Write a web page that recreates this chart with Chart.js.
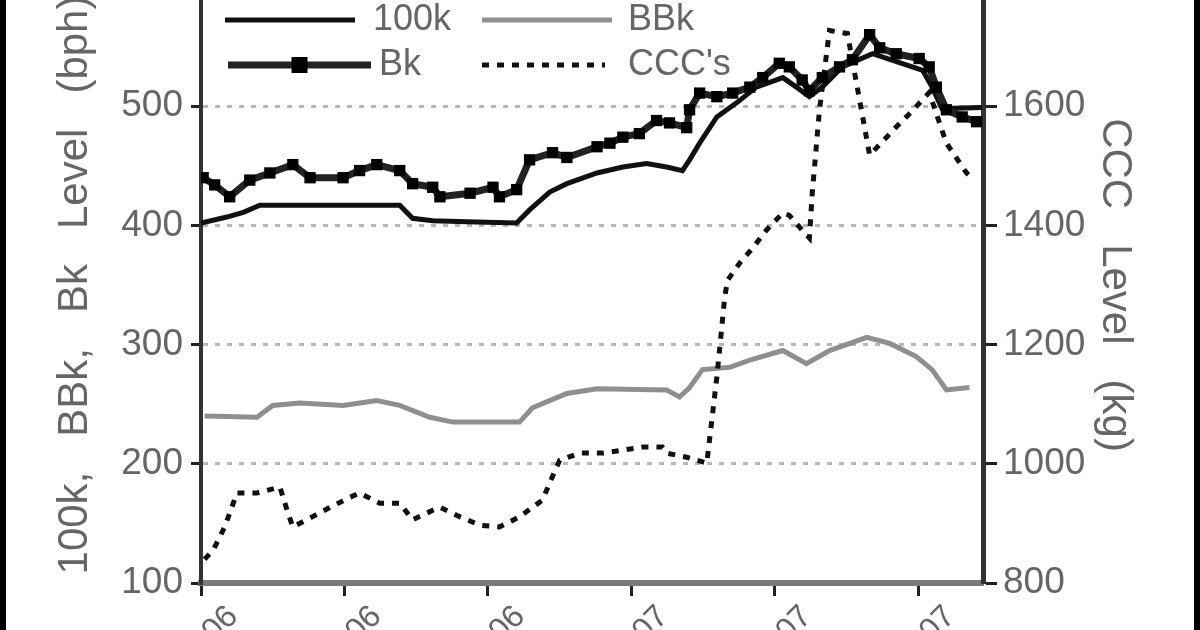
<!DOCTYPE html>
<html>
<head>
<meta charset="utf-8">
<script src="https://cdn.jsdelivr.net/npm/chart.js@4.4.1/dist/chart.umd.min.js"></script>
<style>
  html, body { margin: 0; padding: 0; background: #fff; overflow: hidden; }
  body { width: 1200px; height: 630px; position: relative; }
  #wrap { position: absolute; left: 0; top: -60px; width: 1200px; height: 700px; }
  .edge { position: absolute; top: 0; width: 6px; height: 630px; background: #000; }
</style>
</head>
<body>
<div id="wrap"><canvas id="chart" width="1200" height="700"></canvas></div>
<div class="edge" style="left:0"></div>
<div class="edge" style="right:0"></div>
<script>
// x positions are months from the first tick
var tickMonths = [0, 2, 4, 6, 8, 10];
var tickLabels = ['Jul-06', 'Sep-06', 'Nov-06', 'Jan-07', 'Mar-07', 'May-07'];

var months100k = [0.0, 0.36, 0.59, 0.82, 1.80, 2.77, 2.95, 3.23, 3.70, 4.40, 4.58, 4.86, 5.10, 5.52, 5.88, 6.21, 6.49, 6.71, 6.81, 6.95, 7.19, 7.47, 7.74, 8.11, 8.30, 8.48, 8.66, 8.94, 9.36, 10.06, 10.19, 10.33, 10.89];
var level100k = [402, 407, 411, 417, 417, 417, 406, 404, 403, 402, 413, 428, 435, 444, 449, 452, 449, 446, 455, 469, 491, 503, 516, 524, 516, 508, 516, 533, 544, 530, 516, 498, 499];

var monthsBBk = [0.05, 0.78, 1.00, 1.38, 1.98, 2.45, 2.77, 3.19, 3.51, 4.16, 4.44, 4.62, 4.86, 5.10, 5.52, 6.49, 6.67, 6.81, 6.99, 7.37, 7.65, 8.11, 8.44, 8.76, 9.28, 9.60, 9.97, 10.19, 10.39, 10.71];
var levelBBk = [240, 239, 249, 251, 249, 253, 249, 239, 235, 235, 235, 247, 253, 259, 263, 262, 256, 264, 279, 281, 287, 295, 284, 295, 306, 301, 290, 279, 262, 264];

var monthsBk = [0.03, 0.19, 0.40, 0.68, 0.96, 1.28, 1.52, 1.98, 2.21, 2.45, 2.77, 2.95, 3.23, 3.33, 3.75, 4.07, 4.16, 4.40, 4.58, 4.90, 5.10, 5.52, 5.70, 5.88, 6.11, 6.35, 6.53, 6.77, 6.81, 6.95, 7.19, 7.41, 7.65, 7.83, 8.06, 8.20, 8.38, 8.48, 8.66, 8.90, 9.08, 9.32, 9.46, 9.69, 10.01, 10.15, 10.25, 10.39, 10.61, 10.81];
var levelBk = [440, 434, 424, 438, 444, 451, 440, 440, 446, 451, 446, 435, 432, 424, 427, 432, 424, 430, 455, 461, 457, 466, 469, 474, 477, 488, 486, 482, 497, 511, 508, 511, 516, 524, 536, 533, 522, 513, 524, 533, 539, 560, 549, 544, 540, 533, 516, 497, 491, 487];

var monthsCCC = [0.05, 0.17, 0.33, 0.43, 0.50, 0.78, 1.10, 1.20, 1.28, 1.52, 1.80, 2.08, 2.21, 2.49, 2.77, 2.95, 3.23, 3.33, 3.61, 3.89, 4.16, 4.44, 4.62, 4.76, 4.86, 5.00, 5.28, 5.60, 6.16, 6.43, 6.49, 6.77, 7.05, 7.19, 7.30, 7.34, 7.51, 7.69, 7.88, 8.11, 8.20, 8.38, 8.48, 8.52, 8.62, 8.76, 9.01, 9.32, 9.69, 9.92, 10.15, 10.39, 10.67, 10.78];
var levelCCC = [840, 855, 894, 927, 951, 951, 961, 922, 894, 909, 927, 944, 951, 934, 934, 906, 922, 927, 911, 897, 894, 911, 927, 939, 968, 1006, 1018, 1018, 1028, 1028, 1018, 1011, 1001, 1145, 1280, 1308, 1337, 1362, 1392, 1421, 1417, 1392, 1379, 1454, 1593, 1727, 1722, 1518, 1565, 1593, 1623, 1538, 1488, 1476];

var sans = '"Liberation Sans", Arial, sans-serif';
var textGrey = '#666';

function points(xs, ys) {
    return xs.map((x, i) => ({ x: x, y: ys[i] }));
}

// legend drawn inside the plot, two rows of two entries
var insideLegend = {
    id: 'insideLegend',
    afterDatasetsDraw: function (chart) {
        var ctx = chart.ctx;
        var area = chart.chartArea;
        var rows = [area.top + 33, area.top + 78];
        // dataset index, line start, line end, text x, row
        var slots = [[1, 24, 154, 172, 0], [3, 281, 411, 427, 0], [0, 27, 170, 178, 1], [2, 281, 404, 427, 1]];
        ctx.save();
        slots.forEach(function (s) {
            var ds = chart.data.datasets[s[0]];
            var y = rows[s[4]];
            ctx.strokeStyle = ds.borderColor;
            ctx.lineWidth = ds.borderWidth;
            ctx.setLineDash(ds.borderDash || []);
            ctx.beginPath();
            ctx.moveTo(area.left + s[1], y);
            ctx.lineTo(area.left + s[2], y);
            ctx.stroke();
            ctx.setLineDash([]);
            if (ds.pointRadius) {
                var mid = area.left + (s[1] + s[2]) / 2;
                ctx.fillStyle = ds.pointBackgroundColor;
                ctx.fillRect(mid - 8, y - 8, 16, 16);
            }
            ctx.fillStyle = textGrey;
            ctx.font = '36px ' + sans;
            ctx.textBaseline = 'middle';
            ctx.textAlign = 'left';
            ctx.fillText(ds.label, area.left + s[3], y);
        });
        ctx.restore();
    }
};

new Chart(document.getElementById('chart').getContext('2d'), {
    type: 'line',
    data: {
        datasets: [{
            label: 'Bk',
            data: points(monthsBk, levelBk),
            yAxisID: 'y',
            borderColor: '#222',
            borderWidth: 7,
            pointStyle: 'rect',
            pointRadius: 8,
            pointBackgroundColor: '#000',
            pointBorderWidth: 0
        }, {
            label: '100k',
            data: points(months100k, level100k),
            yAxisID: 'y',
            borderColor: '#111',
            borderWidth: 5,
            pointRadius: 0
        }, {
            label: "CCC's",
            data: points(monthsCCC, levelCCC),
            yAxisID: 'y1',
            borderColor: '#111',
            borderWidth: 5,
            borderDash: [7, 8],
            pointRadius: 0
        }, {
            label: 'BBk',
            data: points(monthsBBk, levelBBk),
            yAxisID: 'y',
            borderColor: '#8f8f8f',
            borderWidth: 5,
            pointRadius: 0
        }]
    },
    options: {
        responsive: false,
        animation: false,
        devicePixelRatio: 1,
        layout: { padding: { top: 47, left: 0, right: 0, bottom: 0 } },
        elements: { line: { tension: 0 } },
        plugins: {
            legend: { display: false },
            tooltip: { enabled: false }
        },
        scales: {
            x: {
                type: 'linear',
                min: 0,
                max: 10.9,
                afterBuildTicks: (axis) => { axis.ticks = tickMonths.map(v => ({ value: v })); },
                afterFit: (axis) => { axis.height = 57; },
                grid: { drawOnChartArea: false, tickLength: 13, tickWidth: 3, tickColor: '#222' },
                border: { color: '#7a7a7a', width: 6 },
                ticks: {
                    minRotation: 45,
                    maxRotation: 45,
                    autoSkip: false,
                    labelOffset: 32,
                    padding: 2,
                    color: textGrey,
                    font: { family: sans, size: 32 },
                    callback: (value, index) => tickLabels[index]
                }
            },
            y: {
                position: 'left',
                min: 100,
                max: 600,
                afterFit: (axis) => { axis.width = 201; },
                ticks: { stepSize: 100, padding: 8, color: textGrey, font: { family: sans, size: 37 }, callback: (v) => String(v) },
                grid: {
                    color: (c) => (c.tick && c.tick.value > 100 && c.tick.value < 600) ? '#b8b8b8' : 'rgba(0,0,0,0)',
                    lineWidth: 3,
                    tickLength: 10,
                    tickWidth: 3,
                    tickColor: '#222'
                },
                border: { color: '#333', width: 4, dash: [5, 7] },
                title: {
                    display: true,
                    text: '100k,   BBk,   Bk   Level   (bph)',
                    color: textGrey,
                    font: { family: sans, size: 42 },
                    padding: { top: 50 }
                }
            },
            y1: {
                position: 'right',
                min: 800,
                max: 1800,
                afterFit: (axis) => { axis.width = 217; },
                ticks: { stepSize: 200, padding: 6, color: textGrey, font: { family: sans, size: 37 }, callback: (v) => String(v) },
                grid: { drawOnChartArea: false, tickLength: 14, tickWidth: 3, tickColor: '#222' },
                border: { color: '#333', width: 5 },
                title: {
                    display: true,
                    text: 'CCC   Level   (kg)',
                    color: textGrey,
                    font: { family: sans, size: 42 },
                    padding: { top: 60 }
                }
            }
        }
    },
    plugins: [insideLegend]
});
</script>
</body>
</html>
